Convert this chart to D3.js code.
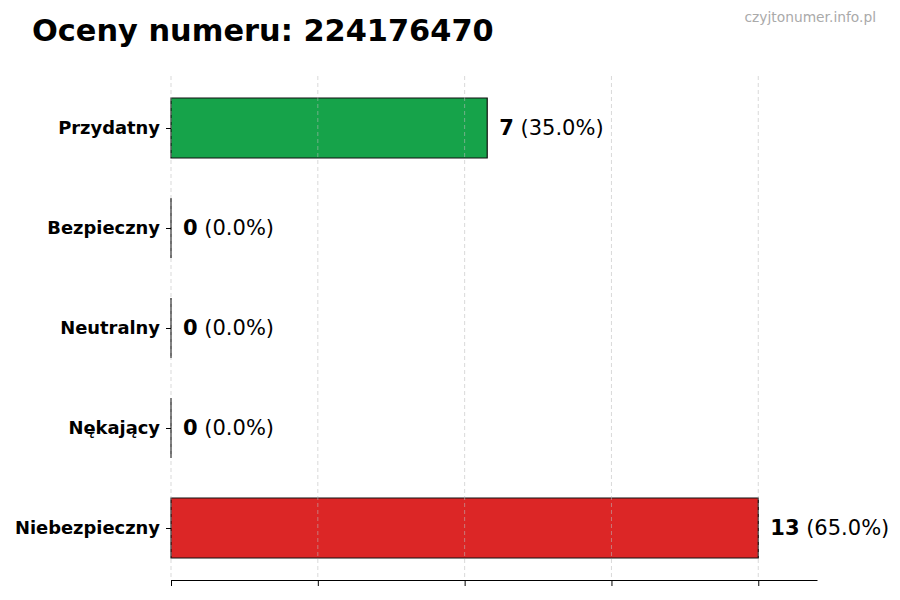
<!DOCTYPE html>
<html>
<head>
<meta charset="utf-8">
<script src="https://cdn.jsdelivr.net/npm/d3@7"></script>
<style>
  body { margin: 0; background: #fff; }
  svg { font-family: "DejaVu Sans", sans-serif; }
</style>
</head>
<body>
<div class="chart"></div>
<script>
const width = 900
const height = 600

const categories = ["Przydatny", "Bezpieczny", "Neutralny", "Nękający", "Niebezpieczny"];
const counts = [7, 0, 0, 0, 13];
const percents = ["35.0%", "0.0%", "0.0%", "0.0%", "65.0%"];
const colors = ["#16a34a", "#9ca3af", "#6b7280", "#f59e0b", "#dc2626"];
const xTicks = [0, 3.25, 6.5, 9.75, 13];

const margin = {top: 76, right: 83, bottom: 20, left: 171};

const data = categories.map((c, i) => ({name: c, count: counts[i], pct: percents[i], color: colors[i]}));

const x = d3.scaleLinear()
  .domain([0, d3.max(counts) * 1.1])
  .range([margin.left, width - margin.right]);

const y = d3.scalePoint()
  .domain(categories)
  .range([margin.top, height - margin.bottom])
  .padding(0.52);

const barH = y.step() * 0.6;

const svg = d3.create("svg")
  .attr("width", width)
  .attr("height", height)
  .attr("viewBox", [0, 0, width, height]);

// bars as paths so zero-width ones still show their edge
svg.append("g")
  .selectAll("path")
  .data(data)
  .join("path")
  .attr("d", d => {
    const x0 = x(0), y0 = y(d.name) - barH / 2, w = x(d.count) - x(0);
    return `M${x0},${y0}h${w}v${barH}h${-w}Z`;
  })
  .attr("fill", d => d.color)
  .attr("stroke", "#111")
  .attr("stroke-width", 1.2);

// grid on top, faint
svg.append("g")
  .selectAll("line")
  .data(xTicks)
  .join("line")
  .attr("x1", d => x(d)).attr("x2", d => x(d))
  .attr("y1", margin.top).attr("y2", height - margin.bottom)
  .attr("stroke", "#bbb")
  .attr("stroke-opacity", 0.7)
  .attr("stroke-dasharray", "4,3")
  .attr("stroke-width", 0.8);

// x axis
const xAxis = svg.append("g")
  .attr("transform", `translate(0,${height - margin.bottom})`)
  .call(d3.axisBottom(x).tickValues(xTicks).tickFormat("").tickSize(6).tickSizeOuter(0));
xAxis.select(".domain").attr("stroke", "#000").attr("stroke-width", 1.2);
xAxis.selectAll(".tick line").attr("stroke", "#000");

// y axis
const yAxis = svg.append("g")
  .attr("transform", `translate(${margin.left},0)`)
  .call(d3.axisLeft(y).tickSize(5).tickPadding(6));
yAxis.select(".domain").remove();
yAxis.selectAll(".tick line").attr("stroke", "#000");
yAxis.selectAll(".tick text")
  .attr("fill", "#000")
  .style("font", "bold 17.9px 'DejaVu Sans', sans-serif");

// value labels
const lbl = svg.append("g")
  .selectAll("text")
  .data(data)
  .join("text")
  .attr("x", d => x(d.count) + 12)
  .attr("y", d => y(d.name))
  .attr("dy", "0.35em")
  .style("font-size", "21px")
  .attr("fill", "#000");
lbl.append("tspan").style("font-weight", "bold").text(d => d.count);
lbl.append("tspan").text(d => ` (${d.pct})`);

// title
svg.append("text")
  .attr("x", 32)
  .attr("y", 41)
  .style("font", "bold 30.4px 'DejaVu Sans', sans-serif")
  .text("Oceny numeru: 224176470");

svg.append("text")
  .attr("x", 876)
  .attr("y", 22)
  .attr("text-anchor", "end")
  .attr("fill", "#aaa")
  .style("font-size", "13.8px")
  .text("czyjtonumer.info.pl");

document.querySelector(".chart").append(svg.node());
</script>
</body>
</html>
